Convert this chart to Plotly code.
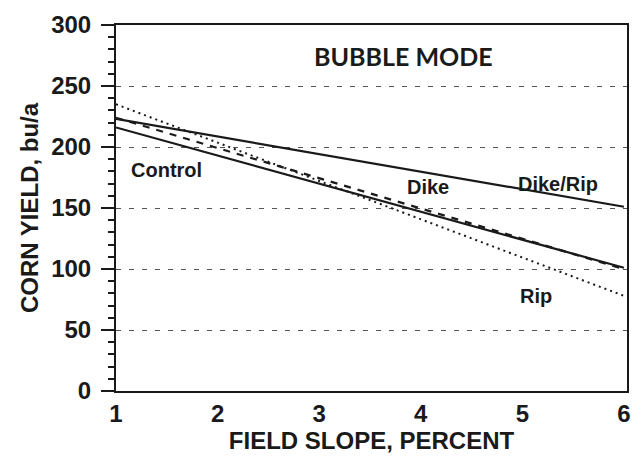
"""Corn yield vs field slope, bubble mode."""
import plotly.graph_objects as go

slope = [1, 6]
control = [216, 101]
dike = [224, 100]
dike_rip = [223, 151]
rip = [235, 78]

labels = ["Control", "Dike", "Dike/Rip", "Rip"]
label_x = [1.5, 4.07, 5.35, 5.13]
label_y = [181, 167, 170, 78]

fig = go.Figure()
fig.add_trace(go.Scatter(x=slope, y=control, mode="lines", name="Control",
                         line=dict(color="#1a1a1a", width=2.2)))
fig.add_trace(go.Scatter(x=slope, y=dike, mode="lines", name="Dike",
                         line=dict(color="#1a1a1a", width=2.2, dash="7px,7px")))
fig.add_trace(go.Scatter(x=slope, y=dike_rip, mode="lines", name="Dike/Rip",
                         line=dict(color="#1a1a1a", width=2.2)))
fig.add_trace(go.Scatter(x=slope, y=rip, mode="lines", name="Rip",
                         line=dict(color="#1a1a1a", width=2, dash="2px,4px")))

for text, x, y in zip(labels, label_x, label_y):
    fig.add_annotation(x=x, y=y, text="<b>%s</b>" % text, showarrow=False,
                       font=dict(family="Liberation Sans", size=20, color="#1a1a1a"))

fig.add_annotation(x=3.83, y=275, text="<b>BUBBLE MODE</b>", showarrow=False,
                   font=dict(family="Lato", size=25, color="#1a1a1a"))

bold = dict(family="Liberation Sans", size=24, color="#1a1a1a")
fig.update_layout(
    width=641, height=456,
    margin=dict(l=116, r=10, t=25, b=63),
    plot_bgcolor="white", paper_bgcolor="white",
    showlegend=False,
    font=bold,
    xaxis=dict(
        range=[1, 6.03], tickvals=[1, 2, 3, 4, 5, 6],
        ticktext=["<b>%d</b>" % v for v in [1, 2, 3, 4, 5, 6]],
        showgrid=False, zeroline=False, showline=True, mirror=True,
        linecolor="#1a1a1a", linewidth=2, ticks="", tickfont=bold,
        title=dict(text="<b>FIELD SLOPE, PERCENT</b>", font=bold, standoff=2),
    ),
    yaxis=dict(
        range=[0, 300], tickvals=[0, 50, 100, 150, 200, 250, 300],
        ticktext=["<b>%d</b>" % v for v in [0, 50, 100, 150, 200, 250, 300]],
        showgrid=True, gridcolor="#555555", griddash="5px,8px", gridwidth=1,
        zeroline=False, showline=True, mirror=True,
        linecolor="#1a1a1a", linewidth=2,
        ticks="outside", ticklen=13, tickcolor="#1a1a1a", tickwidth=1.5,
        ticklabelstandoff=5,
        minor=dict(dtick=10, ticks="outside", ticklen=6, tickcolor="#1a1a1a",
                   tickwidth=1.5, showgrid=False),
        tickfont=bold,
        title=dict(text="<b>CORN YIELD, bu/a</b>", font=bold, standoff=6),
    ),
)

fig.write_html("out.html", config={"displayModeBar": False},
               post_script="document.body.style.margin='0';")
